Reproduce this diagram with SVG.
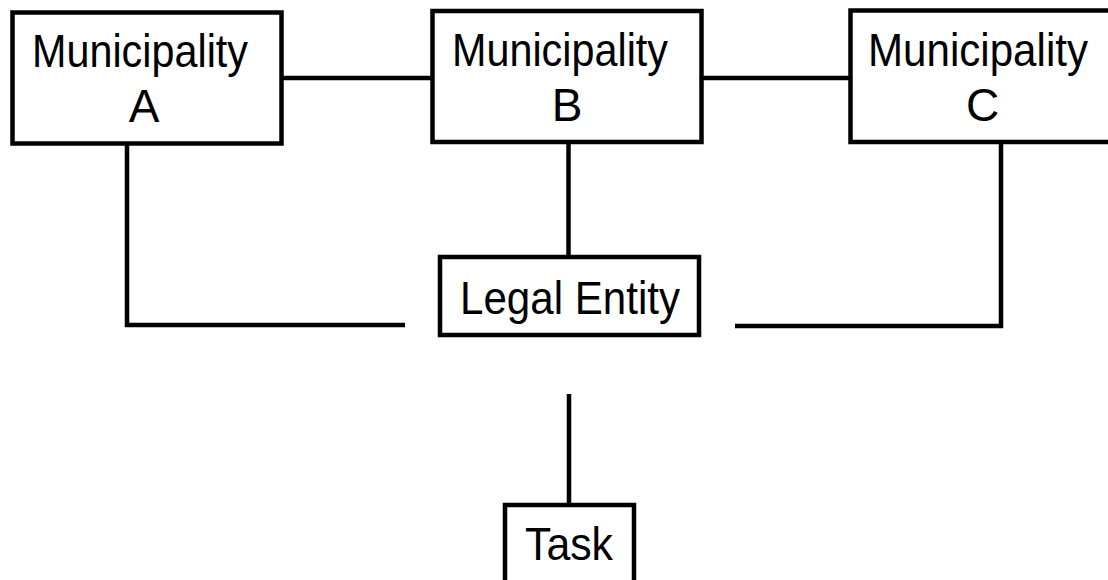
<svg xmlns="http://www.w3.org/2000/svg" width="1108" height="580" viewBox="0 0 1108 580">
  <style>
    .box { fill: #ffffff; stroke: #000000; stroke-width: 4.5; }
    .wire { fill: none; stroke: #000000; stroke-width: 4.5; stroke-linejoin: miter; stroke-linecap: butt; }
    .lbl { font-family: "Liberation Sans", Arial, sans-serif; font-size: 46px; fill: #000000; }
    .mid { text-anchor: middle; }
  </style>

  <!-- connectors -->
  <g id="connectors">
    <line class="wire" x1="267" y1="78" x2="443" y2="78"/>
    <line class="wire" x1="692" y1="78" x2="862" y2="78"/>
    <line class="wire" x1="568.5" y1="142" x2="568.5" y2="257"/>
    <polyline class="wire" points="127,144 127,325 405,325"/>
    <polyline class="wire" points="1001,143 1001,326 735,326"/>
    <line class="wire" x1="569" y1="394" x2="569" y2="505"/>
  </g>

  <!-- Municipality A -->
  <g id="municipality-a">
    <rect class="box" x="12.5" y="12.5" width="269" height="131"/>
    <text class="lbl" x="32" y="67" textLength="216" lengthAdjust="spacingAndGlyphs">Municipality</text>
    <text class="lbl mid" x="144" y="122">A</text>
  </g>

  <!-- Municipality B -->
  <g id="municipality-b">
    <rect class="box" x="432.5" y="11" width="269" height="131"/>
    <text class="lbl" x="452" y="66" textLength="216" lengthAdjust="spacingAndGlyphs">Municipality</text>
    <text class="lbl mid" x="567" y="121">B</text>
  </g>

  <!-- Municipality C (runs past the right edge) -->
  <g id="municipality-c">
    <rect class="box" x="850.5" y="10.5" width="270" height="131.5"/>
    <text class="lbl" x="868" y="66" textLength="220" lengthAdjust="spacingAndGlyphs">Municipality</text>
    <text class="lbl mid" x="982.5" y="121">C</text>
  </g>

  <!-- Legal Entity -->
  <g id="legal-entity">
    <rect class="box" x="440" y="257" width="259" height="78"/>
    <text class="lbl" x="460" y="314" textLength="220" lengthAdjust="spacingAndGlyphs">Legal Entity</text>
  </g>

  <!-- Task -->
  <g id="task">
    <rect class="box" x="505" y="505" width="129" height="90"/>
    <text class="lbl" x="525" y="560" textLength="88" lengthAdjust="spacingAndGlyphs">Task</text>
  </g>
</svg>
